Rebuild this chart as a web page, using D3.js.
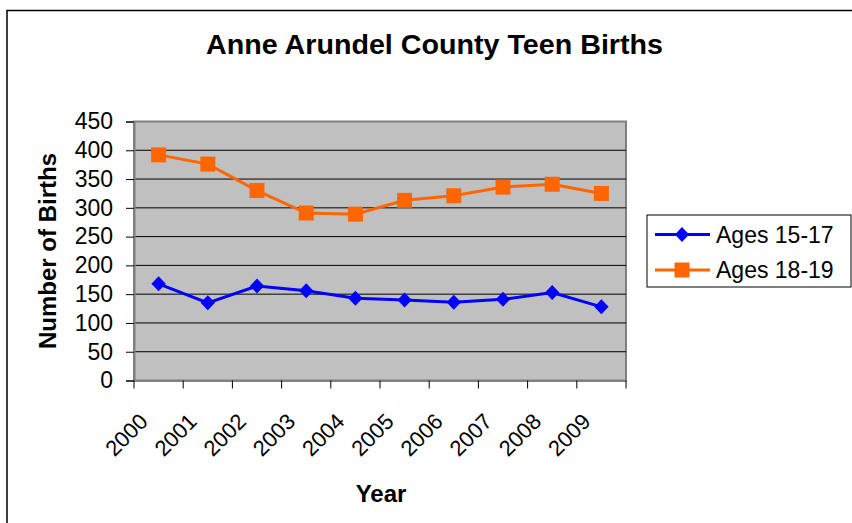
<!DOCTYPE html>
<html>
<head>
<meta charset="utf-8">
<script src="https://cdn.jsdelivr.net/npm/d3@7"></script>
<style>
  html, body { margin: 0; padding: 0; background: #fff; }
  svg { display: block; font-family: Arial, "Liberation Sans", sans-serif; }
</style>
</head>
<body>
<svg id="chart" width="852" height="523"></svg>
<script>
const years = ["2000","2001","2002","2003","2004","2005","2006","2007","2008","2009"];
const ages1517 = [168, 135, 164, 156, 143, 140, 136, 141, 153, 128];
const ages1819 = [392, 376, 330, 291, 289, 313, 321, 336, 341, 325];
const yTicks = [0, 50, 100, 150, 200, 250, 300, 350, 400, 450];
const seriesNames = ["Ages 15-17", "Ages 18-19"];
const seriesColors = ["#0000ff", "#ff6600"];

const FONT = "Arial, 'Liberation Sans', sans-serif";
const svg = d3.select("#chart");

// outer chart border
svg.append("rect").attr("x", 7).attr("y", 10.5).attr("width", 860).attr("height", 530)
  .attr("fill", "#fff").attr("stroke", "#000").attr("stroke-width", 1.5);

const plot = { left: 134, right: 626, top: 121.5, bottom: 380.5 };

const x = d3.scaleBand().domain(years).range([plot.left, plot.right]);
const y = d3.scaleLinear().domain([0, 450]).range([plot.bottom, plot.top]);

// plot background
svg.append("rect").attr("x", plot.left).attr("y", plot.top)
  .attr("width", plot.right - plot.left).attr("height", plot.bottom - plot.top)
  .attr("fill", "#c0c0c0").attr("stroke", "#808080").attr("stroke-width", 2);

// gridlines
svg.append("g").selectAll("line").data(yTicks.filter(d => d > 0 && d < 450)).join("line")
  .attr("x1", plot.left).attr("x2", plot.right)
  .attr("y1", d => y(d)).attr("y2", d => y(d))
  .attr("stroke", "#000").attr("stroke-width", 1);

// y axis
const yAxis = svg.append("g").attr("transform", `translate(${plot.left},0)`)
  .call(d3.axisLeft(y).tickValues(yTicks).tickSize(8).tickPadding(13));
yAxis.select(".domain").attr("stroke", "#808080").attr("stroke-width", 2);
yAxis.selectAll(".tick line").attr("stroke", "#000");
yAxis.selectAll("text").attr("font-size", 23).attr("fill", "#000")
  .attr("font-family", FONT);

// x axis
const xAxis = svg.append("g").attr("transform", `translate(0,${plot.bottom})`)
  .call(d3.axisBottom(x).tickSize(0).tickFormat(""));
xAxis.select(".domain").attr("stroke", "#808080").attr("stroke-width", 2);
// category boundary ticks
const bounds = years.map(d => x(d)).concat([plot.right]);
svg.append("g").selectAll("line").data(bounds).join("line")
  .attr("x1", d => d).attr("x2", d => d)
  .attr("y1", plot.bottom).attr("y2", plot.bottom + 8)
  .attr("stroke", "#000");
// rotated labels
svg.append("g").selectAll("text").data(years).join("text")
  .attr("transform", d => `translate(${x(d) + x.bandwidth() / 2 - 15},${plot.bottom + 37}) rotate(-45)`)
  .attr("text-anchor", "end").attr("dy", "0.35em")
  .attr("font-size", 22).attr("fill", "#000")
  .text(d => d);

// lines
const cx = d => x(d) + x.bandwidth() / 2;
const line = d3.line().x(d => cx(d[0])).y(d => y(d[1]));
const seriesData = [ages1517, ages1819].map(arr => years.map((yr, i) => [yr, arr[i]]));

seriesData.forEach((data, si) => {
  svg.append("path").datum(data).attr("d", line)
    .attr("fill", "none").attr("stroke", seriesColors[si]).attr("stroke-width", 3);
});
// markers
svg.append("g").selectAll("path").data(seriesData[0]).join("path")
  .attr("d", d => `M${cx(d[0])},${y(d[1]) - 7.5}L${cx(d[0]) + 7.2},${y(d[1])}L${cx(d[0])},${y(d[1]) + 7.5}L${cx(d[0]) - 7.2},${y(d[1])}Z`)
  .attr("fill", seriesColors[0]);
svg.append("g").selectAll("rect").data(seriesData[1]).join("rect")
  .attr("x", d => cx(d[0]) - 7.5).attr("y", d => y(d[1]) - 7.5)
  .attr("width", 15).attr("height", 15)
  .attr("fill", seriesColors[1]);

// title
svg.append("text").attr("x", 206).attr("y", 54).attr("text-anchor", "start")
  .attr("font-size", 27).attr("font-weight", "bold")
  .attr("textLength", 457).attr("lengthAdjust", "spacingAndGlyphs")
  .text("Anne Arundel County Teen Births");

// axis titles
svg.append("text").attr("x", 381).attr("y", 502).attr("text-anchor", "middle")
  .attr("font-size", 24).attr("font-weight", "bold").text("Year");
svg.append("text").attr("transform", "translate(56,251) rotate(-90)").attr("text-anchor", "middle")
  .attr("font-size", 24).attr("font-weight", "bold")
  .text("Number of Births");

// legend
const lg = svg.append("g");
lg.append("rect").attr("x", 647).attr("y", 215).attr("width", 204).attr("height", 72)
  .attr("fill", "#fff").attr("stroke", "#000").attr("stroke-width", 1);
const legRows = [234.5, 270];
seriesNames.forEach((name, i) => {
  const yy = legRows[i];
  lg.append("line").attr("x1", 655).attr("x2", 710).attr("y1", yy).attr("y2", yy)
    .attr("stroke", seriesColors[i]).attr("stroke-width", 3);
  if (i === 0) {
    lg.append("path").attr("d", `M682,${yy - 7.5}L689,${yy}L682,${yy + 7.5}L675,${yy}Z`).attr("fill", seriesColors[i]);
  } else {
    lg.append("rect").attr("x", 674.5).attr("y", yy - 7.5).attr("width", 15).attr("height", 15).attr("fill", seriesColors[i]);
  }
  lg.append("text").attr("x", 716).attr("y", yy).attr("dy", "0.35em")
    .attr("font-size", 23).text(name);
});
</script>
</body>
</html>
